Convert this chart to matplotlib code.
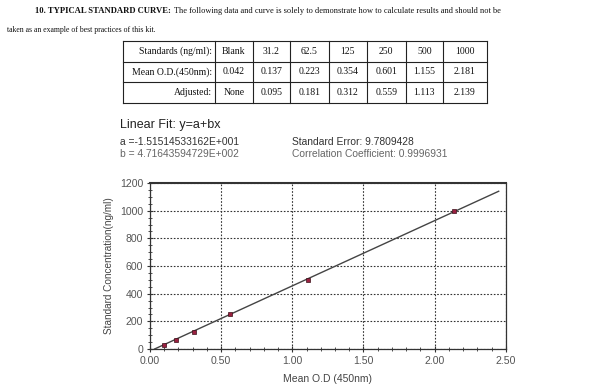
import matplotlib
matplotlib.use("Agg")
import matplotlib.pyplot as plt
import numpy as np
from matplotlib.ticker import MultipleLocator, FormatStrFormatter

# ---- data ----
standards = ["Blank", "31.2", "62.5", "125", "250", "500", "1000"]
mean_od = ["0.042", "0.137", "0.223", "0.354", "0.601", "1.155", "2.181"]
adjusted = ["None", "0.095", "0.181", "0.312", "0.559", "1.113", "2.139"]
row_labels = ["Standards (ng/ml):", "Mean O.D.(450nm):", "Adjusted:"]

conc = [31.2, 62.5, 125, 250, 500, 1000]
od_adj = [0.095, 0.181, 0.312, 0.559, 1.113, 2.139]

fit_a = -1.51514533162E+001
fit_b = 4.71643594729E+002
fit_x_end = 2.45

# ---- figure ----
fig = plt.figure(figsize=(6, 3.88), dpi=100)
fig.patch.set_facecolor("white")

ov = fig.add_axes([0, 0, 1, 1])
ov.set_xlim(0, 600)
ov.set_ylim(388, 0)
ov.axis("off")

serif = "Liberation Serif"
sans = "Liberation Sans"

# title
t1 = ov.text(35, 11, "10. TYPICAL STANDARD CURVE:", family=serif, fontsize=6.2,
             fontweight="bold", va="center", ha="left", color="#111")
fig.canvas.draw()
r = fig.canvas.get_renderer()
bb = t1.get_window_extent(r)
ov.text(bb.x1 + 3, 11, "The following data and curve is solely to demonstrate how to calculate results and should not be",
        family=serif, fontsize=6.0, va="center", ha="left", color="#111")
ov.text(7, 30, "taken as an example of best practices of this kit.", family=serif,
        fontsize=5.6, va="center", ha="left", color="#111")

# table
col_edges = [122.7, 215, 252.7, 290, 329, 366.7, 405.7, 443, 487]
row_edges = [40.5, 61.5, 82, 102.5]
for xe in col_edges:
    ov.plot([xe, xe], [row_edges[0], row_edges[-1]], color="#222", lw=0.8)
for ye in row_edges:
    ov.plot([col_edges[0], col_edges[-1]], [ye, ye], color="#222", lw=0.8)
rows = [standards, mean_od, adjusted]
for i, (lab, vals) in enumerate(zip(row_labels, rows)):
    yc = (row_edges[i] + row_edges[i + 1]) / 2
    ov.text(col_edges[1] - 3, yc, lab, family=serif, fontsize=7, ha="right", va="center", color="#111")
    for j, v in enumerate(vals):
        xc = (col_edges[j + 1] + col_edges[j + 2]) / 2
        ov.text(xc, yc, v, family=serif, fontsize=7, ha="center", va="center", color="#111")

# fit text
ov.text(120.5, 125, "Linear Fit: y=a+bx", family=sans, fontsize=9.0, ha="left", va="center", color="#222")
ov.text(120.5, 142, "a =-1.51514533162E+001", family=sans, fontsize=7.4, ha="left", va="center", color="#333")
ov.text(120.5, 154, "b = 4.71643594729E+002", family=sans, fontsize=7.4, ha="left", va="center", color="#666")
ov.text(291.5, 142, "Standard Error: 9.7809428", family=sans, fontsize=7.4, ha="left", va="center", color="#333")
ov.text(291.5, 154, "Correlation Coefficient: 0.9996931", family=sans, fontsize=7.4, ha="left", va="center", color="#666")

# ---- plot axes ----
ax = fig.add_axes([0.25, 1 - 349 / 388, 0.593, (349 - 183) / 388])
ax.set_xlim(0, 2.5)
ax.set_ylim(0, 1200)
ax.xaxis.set_major_locator(MultipleLocator(0.5))
ax.xaxis.set_minor_locator(MultipleLocator(0.1))
ax.yaxis.set_major_locator(MultipleLocator(200))
ax.yaxis.set_minor_locator(MultipleLocator(50))
ax.xaxis.set_major_formatter(FormatStrFormatter("%.2f"))
ax.grid(True, which="major", color="#333", lw=0.8, linestyle=(0, (1.5, 1.5)))
for s in ax.spines.values():
    s.set_color("#333")
    s.set_linewidth(0.9)
ax.spines["top"].set_linewidth(1.5)
ax.tick_params(which="major", direction="inout", length=4, width=0.8, color="#333",
               labelsize=7.6, labelcolor="#555", pad=3)
ax.tick_params(which="minor", direction="inout", length=2.5, width=0.6, color="#333")
for lab in ax.get_xticklabels() + ax.get_yticklabels():
    lab.set_family(sans)

x0 = -fit_a / fit_b
xl = np.array([x0, fit_x_end])
ax.plot(xl, fit_a + fit_b * xl, color="#444", lw=1.0, zorder=3)
ax.plot(od_adj, conc, linestyle="none", marker="s", ms=2.6, mfc="#9a2040",
        mec="#3a1018", mew=0.5, zorder=4)

ax.set_xlabel("Mean O.D (450nm)", family=sans, fontsize=7.5, color="#444", labelpad=6)
ax.set_ylabel("Standard Concentration(ng/ml)", family=sans, fontsize=7.2, color="#444", labelpad=4)

fig.savefig("out.png", dpi=100, facecolor="white")
